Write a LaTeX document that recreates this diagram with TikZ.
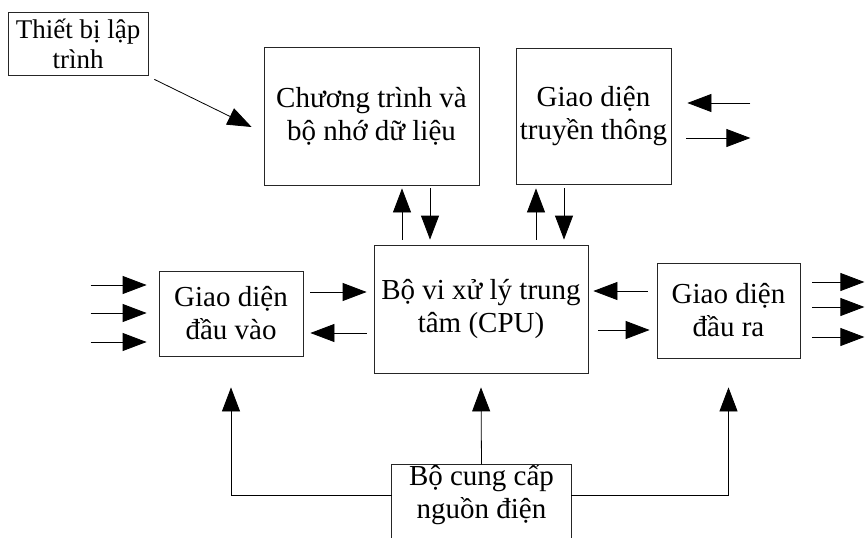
\documentclass[tikz,border=0pt]{standalone}
\usepackage{fontspec}
\setmainfont{Liberation Serif}
\usetikzlibrary{arrows.meta}
\tikzstyle{block} = [rectangle, draw=black!85, line width=0.8pt,
  align=center, inner sep=0pt, font=\fontsize{29}{33}\selectfont]
\tikzstyle{arr} = [draw=black, line width=0.8pt,
  -{Triangle[length=24pt, width=18pt]}]

\begin{document}
\begin{tikzpicture}[x=1pt, y=-1pt]
  \useasboundingbox (0,0) rectangle (865,538);
  \clip (0,0) rectangle (865,538);

  \node[block, minimum width=140pt, minimum height=63pt, font=\fontsize{27}{30}\selectfont] (prog) at (78, 43.5) {Thiết bị lập\\trình};
  \node[block, minimum width=215pt, minimum height=138pt] (mem) at (371.5, 116) {Chương trình và\\bộ nhớ dữ liệu};
  \node[block, minimum width=155pt, minimum height=136pt] (comm) at (593.5, 116) {Giao diện\\truyền thông};
  \node[block, minimum width=214pt, minimum height=128pt] (cpu) at (481, 309) {Bộ vi xử lý trung\\tâm (CPU)};
  \node[block, minimum width=144pt, minimum height=85pt] (inp) at (231, 313.5) {Giao diện\\đầu vào};
  \node[block, minimum width=143pt, minimum height=95pt] (out) at (728.5, 310.5) {Giao diện\\đầu ra};
  \node[block, draw=none, minimum width=179pt, minimum height=60pt] (pwr) at (481.5, 495) {Bộ cung cấp\\nguồn điện};
  \draw[draw=black!85, line width=0.8pt] ([yshift=-90pt]pwr.north west) -- (pwr.north west)
    -- (pwr.north east) -- ([yshift=-90pt]pwr.north east);

  \draw[arr] ([shift={(6pt,-4pt)}]prog.south east) -- ([shift={(-12pt,-11pt)}]mem.west);

  \draw[arr] ([shift={(-79pt,5pt)}]cpu.north) -- ([shift={(30.5pt,-3pt)}]mem.south);
  \draw[arr] ([shift={(58.5pt,-3pt)}]mem.south) -- ([shift={(-51pt,5pt)}]cpu.north);
  \draw[arr] ([shift={(55pt,5pt)}]cpu.north) -- ([shift={(-57.5pt,-4pt)}]comm.south);
  \draw[arr] ([shift={(-29.5pt,-4pt)}]comm.south) -- ([shift={(83pt,5pt)}]cpu.north);

  \draw[arr] ([shift={(79pt,13pt)}]comm.east) -- ([shift={(16pt,13pt)}]comm.east);
  \draw[arr] ([shift={(15pt,-22pt)}]comm.east) -- ([shift={(79pt,-22pt)}]comm.east);

  \draw[arr] ([shift={(7pt,21.5pt)}]inp.east) -- ([shift={(-7pt,17pt)}]cpu.west);
  \draw[arr] ([shift={(-7pt,-24pt)}]cpu.west) -- ([shift={(7pt,-19.5pt)}]inp.east);
  \draw[arr] ([shift={(-9pt,19.5pt)}]out.west) -- ([shift={(5pt,18pt)}]cpu.east);
  \draw[arr] ([shift={(10pt,-21pt)}]cpu.east) -- ([shift={(-7pt,-19.5pt)}]out.west);

  \foreach \dy in {28.5, 0.5, -28.5}
    \draw[arr] ([shift={(-68pt,\dy pt)}]inp.west) -- ([shift={(-12pt,\dy pt)}]inp.west);
  \foreach \dy in {28.5, 3.5, -26.5}
    \draw[arr] ([shift={(12pt,\dy pt)}]out.east) -- ([shift={(64pt,\dy pt)}]out.east);

  \draw[arr] (pwr.west) -| ([yshift=-31pt]inp.south);
  \draw[arr] (pwr.east) -| ([yshift=-29pt]out.south);
  \draw[arr] (pwr.north) -- ([yshift=-14pt]cpu.south);
\end{tikzpicture}
\end{document}
